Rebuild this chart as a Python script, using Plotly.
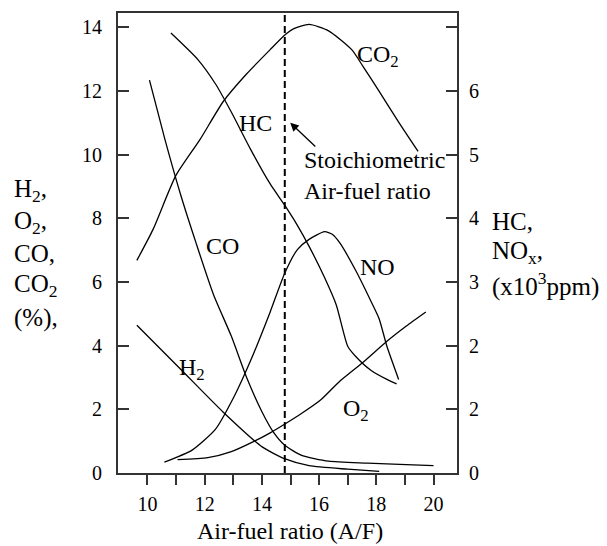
import plotly.graph_objects as go

# ---- data ----
co2_x = [9.63, 10.2, 10.99, 11.84, 12.65, 13.47, 14.29, 14.83, 15.10, 15.65, 16.33, 17.14, 17.55, 18.10, 18.78, 19.46]
co2_y = [6.68, 7.66, 9.34, 10.48, 11.67, 12.54, 13.30, 13.78, 13.95, 14.09, 13.89, 13.30, 12.75, 11.99, 11.02, 10.10]

hc_x = [10.82, 11.77, 12.38, 12.93, 13.61, 14.29, 14.79, 15.24, 15.65, 16.19, 16.60, 17.0, 17.28, 17.82, 18.37, 18.71]
hc_y = [6.91, 6.49, 6.11, 5.67, 5.08, 4.54, 4.21, 3.89, 3.56, 3.07, 2.64, 1.99, 1.83, 1.61, 1.47, 1.40]

no_x = [10.59, 11.56, 12.38, 13.06, 13.61, 14.29, 14.79, 15.24, 15.65, 16.19, 16.46, 16.73, 17.28, 17.82, 18.10, 18.37, 18.78]
no_y = [0.17, 0.36, 0.69, 1.23, 1.77, 2.53, 3.13, 3.51, 3.67, 3.79, 3.75, 3.61, 3.18, 2.69, 2.42, 1.99, 1.47]

co_x = [10.07, 10.61, 11.16, 11.70, 12.31, 12.93, 13.47, 14.01, 14.42, 14.79, 15.37, 16.33, 17.69, 19.05, 20.0]
co_y = [12.34, 10.48, 8.74, 7.22, 5.60, 4.30, 2.99, 1.91, 1.26, 0.88, 0.56, 0.37, 0.31, 0.26, 0.23]

h2_x = [9.63, 11.16, 12.65, 14.01, 14.79, 15.65, 17.0, 18.1]
h2_y = [4.64, 3.26, 1.91, 0.82, 0.45, 0.23, 0.12, 0.05]

o2_x = [11.05, 12.11, 12.93, 13.74, 14.29, 14.79, 15.37, 16.05, 16.73, 17.55, 18.37, 19.05, 19.73]
o2_y = [0.42, 0.48, 0.67, 1.0, 1.26, 1.53, 1.86, 2.29, 2.89, 3.49, 4.14, 4.62, 5.06]

stoich_af = 14.8

x_tickvals = list(range(10, 21))
x_ticktext = ["10", "", "12", "", "14", "", "16", "", "18", "", "20"]
left_tickvals = [0, 2, 4, 6, 8, 10, 12, 14]
left_ticktext = ["0", "2", "4", "6", "8", "10", "12", "14"]
right_tickvals = [0, 1, 2, 3, 4, 5, 6, 7]
right_ticktext = ["0", "2", "2", "3", "4", "5", "6", ""]

# ---- figure ----
W, H = 607, 546
ML, MR, MT, MB = 118, 150, 11, 73
PW, PH = W - ML - MR, H - MT - MB

def px_x(px):
    return (px - ML) / PW

def px_y(py):
    return (H - MB - py) / PH

FONT = "Liberation Serif"
LINE = dict(color="black", width=1.3, shape="spline", smoothing=0.6)

fig = go.Figure()
for xs, ys, ax in [(co2_x, co2_y, "y"), (co_x, co_y, "y"), (h2_x, h2_y, "y"), (o2_x, o2_y, "y"),
                   (hc_x, hc_y, "y2"), (no_x, no_y, "y2")]:
    fig.add_trace(go.Scatter(x=xs, y=ys, mode="lines", line=LINE, yaxis=ax,
                             showlegend=False, hoverinfo="skip"))

fig.add_shape(type="line", xref="x", yref="paper", x0=stoich_af, x1=stoich_af, y0=0, y1=1,
              line=dict(color="black", width=2, dash="7px,4px"))

ann_font = dict(family=FONT, size=24, color="black")
title_font = dict(family=FONT, size=25, color="black")
labels = [
    ("CO<sub>2</sub>", 18.07, 13.10),
    ("HC", 13.77, 11.0),
    ("CO", 12.63, 7.12),
    ("NO", 18.03, 6.47),
    ("H<sub>2</sub>", 11.56, 3.27),
    ("O<sub>2</sub>", 17.28, 1.97),
]
for t, x, y in labels:
    fig.add_annotation(text=t, x=x, y=y, xref="x", yref="y", showarrow=False, font=ann_font)

fig.add_annotation(text="Stoichiometric<br>Air-fuel ratio", x=15.41, y=9.35, xref="x", yref="y",
                   xanchor="left", align="left", showarrow=False, font=ann_font)
fig.add_annotation(text="", x=14.99, y=11.0, ax=15.92, ay=10.21, xref="x", yref="y",
                   axref="x", ayref="y", showarrow=True, arrowhead=2, arrowsize=1.3,
                   arrowwidth=1.3, arrowcolor="black")

# left axis title
for t, py in [("H<sub>2</sub>,", 189), ("O<sub>2</sub>,", 221), ("CO,", 253),
              ("CO<sub>2</sub>", 285), ("(%),", 317)]:
    fig.add_annotation(text=t, x=px_x(12), y=px_y(py), xref="paper", yref="paper",
                       xanchor="left", yanchor="middle", showarrow=False, font=title_font)
# right axis title
for t, py in [("HC,", 220), ("NO<sub>x</sub>,", 252), ("(x10<sup>3</sup>ppm)", 284)]:
    fig.add_annotation(text=t, x=px_x(490), y=px_y(py), xref="paper", yref="paper",
                       xanchor="left", yanchor="middle", showarrow=False, font=title_font)
# x title
fig.add_annotation(text="Air-fuel ratio (A/F)", x=px_x(290), y=px_y(531), xref="paper", yref="paper",
                   xanchor="center", yanchor="middle", showarrow=False, font=ann_font)

axis_line = dict(showline=True, linecolor="#333333", linewidth=2, showgrid=False, zeroline=False)
tick_font = dict(family=FONT, size=20, color="black")

fig.update_layout(
    width=W, height=H, margin=dict(l=ML, r=MR, t=MT, b=MB),
    paper_bgcolor="white", plot_bgcolor="white",
    xaxis=dict(range=[8.97, 20.82], tickvals=x_tickvals, ticktext=x_ticktext,
               ticks="outside", ticklen=10, tickwidth=1.5, tickcolor="#333333",
               mirror=True, tickfont=tick_font, ticklabelstandoff=2, **axis_line),
    yaxis=dict(range=[0, 14.45], tickvals=left_tickvals, ticktext=left_ticktext,
               ticks="inside", ticklen=11, tickwidth=1.5, tickcolor="#333333",
               tickfont=tick_font, ticklabelstandoff=10, **axis_line),
    yaxis2=dict(range=[0, 7.225], tickvals=right_tickvals, ticktext=right_ticktext,
                overlaying="y", side="right",
                ticks="inside", ticklen=11, tickwidth=1.5, tickcolor="#333333",
                tickfont=tick_font, ticklabelstandoff=6, **axis_line),
    font=dict(family=FONT),
)

fig.write_html("out.html")
